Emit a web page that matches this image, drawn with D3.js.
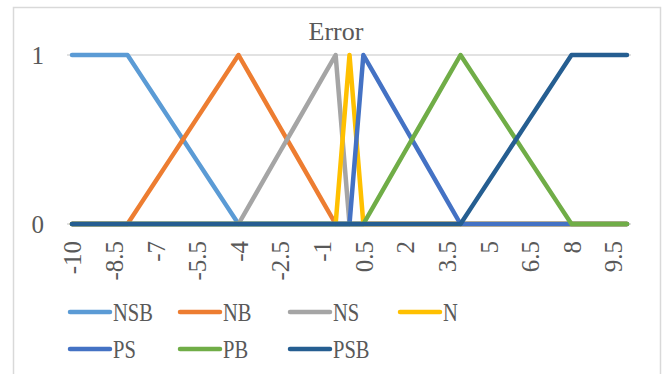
<!DOCTYPE html>
<html>
<head>
<meta charset="utf-8">
<script src="https://cdn.jsdelivr.net/npm/d3@7"></script>
<style>
  body { margin: 0; background: #fff; }
  text { font-family: "Liberation Serif", "Times New Roman", serif; fill: #595959; }
</style>
</head>
<body>
<svg id="chart"></svg>
<script>
const categories = [
  -10, -9.5, -9, -8.5, -8, -7.5, -7, -6.5, -6, -5.5, -5, -4.5, -4, -3.5, -3, -2.5, -2, -1.5, -1, -0.5,
  0, 0.5, 1, 1.5, 2, 2.5, 3, 3.5, 4, 4.5, 5, 5.5, 6, 6.5, 7, 7.5, 8, 8.5, 9, 9.5, 10
];
const tickLabels = ["-10", "-8.5", "-7", "-5.5", "-4", "-2.5", "-1", "0.5", "2", "3.5", "5", "6.5", "8", "9.5"];

const seriesNames = ["NSB", "NB", "NS", "N", "PS", "PB", "PSB"];
const seriesColors = ["#5B9BD5", "#ED7D31", "#A5A5A5", "#FFC000", "#4472C4", "#70AD47", "#255E91"];

const NSB = [1, 1, 1, 1, 1, 0.875, 0.75, 0.625, 0.5, 0.375, 0.25, 0.125, 0, 0, 0, 0, 0, 0, 0, 0,
  0, 0, 0, 0, 0, 0, 0, 0, 0, 0, 0, 0, 0, 0, 0, 0, 0, 0, 0, 0, 0];
const NB = [0, 0, 0, 0, 0, 0.125, 0.25, 0.375, 0.5, 0.625, 0.75, 0.875, 1, 0.857, 0.714, 0.571, 0.429, 0.286, 0.143, 0,
  0, 0, 0, 0, 0, 0, 0, 0, 0, 0, 0, 0, 0, 0, 0, 0, 0, 0, 0, 0, 0];
const NS = [0, 0, 0, 0, 0, 0, 0, 0, 0, 0, 0, 0, 0, 0.143, 0.286, 0.429, 0.571, 0.714, 0.857, 1,
  0, 0, 0, 0, 0, 0, 0, 0, 0, 0, 0, 0, 0, 0, 0, 0, 0, 0, 0, 0, 0];
const N = [0, 0, 0, 0, 0, 0, 0, 0, 0, 0, 0, 0, 0, 0, 0, 0, 0, 0, 0, 0,
  1, 0, 0, 0, 0, 0, 0, 0, 0, 0, 0, 0, 0, 0, 0, 0, 0, 0, 0, 0, 0];
const PS = [0, 0, 0, 0, 0, 0, 0, 0, 0, 0, 0, 0, 0, 0, 0, 0, 0, 0, 0, 0,
  0, 1, 0.857, 0.714, 0.571, 0.429, 0.286, 0.143, 0, 0, 0, 0, 0, 0, 0, 0, 0, 0, 0, 0, 0];
const PB = [0, 0, 0, 0, 0, 0, 0, 0, 0, 0, 0, 0, 0, 0, 0, 0, 0, 0, 0, 0,
  0, 0, 0.143, 0.286, 0.429, 0.571, 0.714, 0.857, 1, 0.875, 0.75, 0.625, 0.5, 0.375, 0.25, 0.125, 0, 0, 0, 0, 0];
const PSB = [0, 0, 0, 0, 0, 0, 0, 0, 0, 0, 0, 0, 0, 0, 0, 0, 0, 0, 0, 0,
  0, 0, 0, 0, 0, 0, 0, 0, 0, 0.125, 0.25, 0.375, 0.5, 0.625, 0.75, 0.875, 1, 1, 1, 1, 1];

const seriesValues = [NSB, NB, NS, N, PS, PB, PSB];

function init() {
  const width = 664,
    height = 374;

  const svg = d3.select("#chart").attr("width", width).attr("height", height);

  // chart area border (bottom edge is outside the window)
  svg
    .append("rect")
    .attr("x", 13.5)
    .attr("y", 7.5)
    .attr("width", 647)
    .attr("height", 400)
    .attr("fill", "none")
    .attr("stroke", "#d9d9d9")
    .attr("stroke-width", 1.5);

  svg
    .append("text")
    .attr("x", 336)
    .attr("y", 40)
    .attr("text-anchor", "middle")
    .style("font-size", "26px")
    .text("Error");

  const x = d3.scalePoint().domain(categories).range([72, 627]);
  const y = d3.scaleLinear().domain([0, 1]).range([224, 55]);

  // gridlines
  svg
    .append("g")
    .selectAll("line")
    .data(y.ticks(1))
    .join("line")
    .attr("x1", 67)
    .attr("x2", 631)
    .attr("y1", (d) => y(d))
    .attr("y2", (d) => y(d))
    .attr("stroke", "#d9d9d9")
    .attr("stroke-width", 1.5);

  // y axis labels
  const yAxis = svg
    .append("g")
    .attr("transform", "translate(44,0)")
    .call(d3.axisLeft(y).ticks(1).tickSize(0).tickPadding(0).tickFormat(d3.format("d")));
  yAxis.select(".domain").remove();
  yAxis
    .selectAll("text")
    .style("font-size", "25px")
    .style("font-family", "Liberation Serif")
    .attr("fill", "#595959");

  // x axis labels, rotated
  const xAxis = svg
    .append("g")
    .attr("transform", "translate(0,241)")
    .call(
      d3
        .axisBottom(x)
        .tickValues(tickLabels.map(Number))
        .tickSize(0)
        .tickFormat((d) => tickLabels.find((t) => Number(t) === d))
    );
  xAxis.select(".domain").remove();
  xAxis
    .selectAll("text")
    .attr("transform", "rotate(-90)")
    .attr("x", 0)
    .attr("y", 0)
    .attr("dy", "0.35em")
    .style("text-anchor", "end")
    .style("font-size", "25px")
    .style("font-family", "Liberation Serif")
    .attr("fill", "#595959");

  const line = d3
    .line()
    .x((d, i) => x(categories[i]))
    .y((d) => y(d));

  svg
    .append("g")
    .selectAll("path")
    .data(seriesValues)
    .join("path")
    .attr("d", (d) => line(d))
    .attr("fill", "none")
    .attr("stroke", (d, i) => seriesColors[i])
    .attr("stroke-width", 4.5)
    .attr("stroke-linejoin", "round")
    .attr("stroke-linecap", "round");

  // legend
  const legend = svg
    .append("g")
    .selectAll("g")
    .data(seriesNames)
    .join("g")
    .attr("transform", (d, i) => `translate(${68 + (i % 4) * 110}, ${312 + Math.floor(i / 4) * 37})`);

  legend
    .append("line")
    .attr("x1", 2)
    .attr("x2", 42)
    .attr("stroke", (d, i) => seriesColors[i])
    .attr("stroke-width", 4.5)
    .attr("stroke-linecap", "round");

  legend
    .append("text")
    .attr("transform", "translate(45,0) scale(0.79,1)")
    .attr("dy", "0.35em")
    .style("font-size", "26px")
    .text((d) => d);
}

init();
</script>
</body>
</html>
